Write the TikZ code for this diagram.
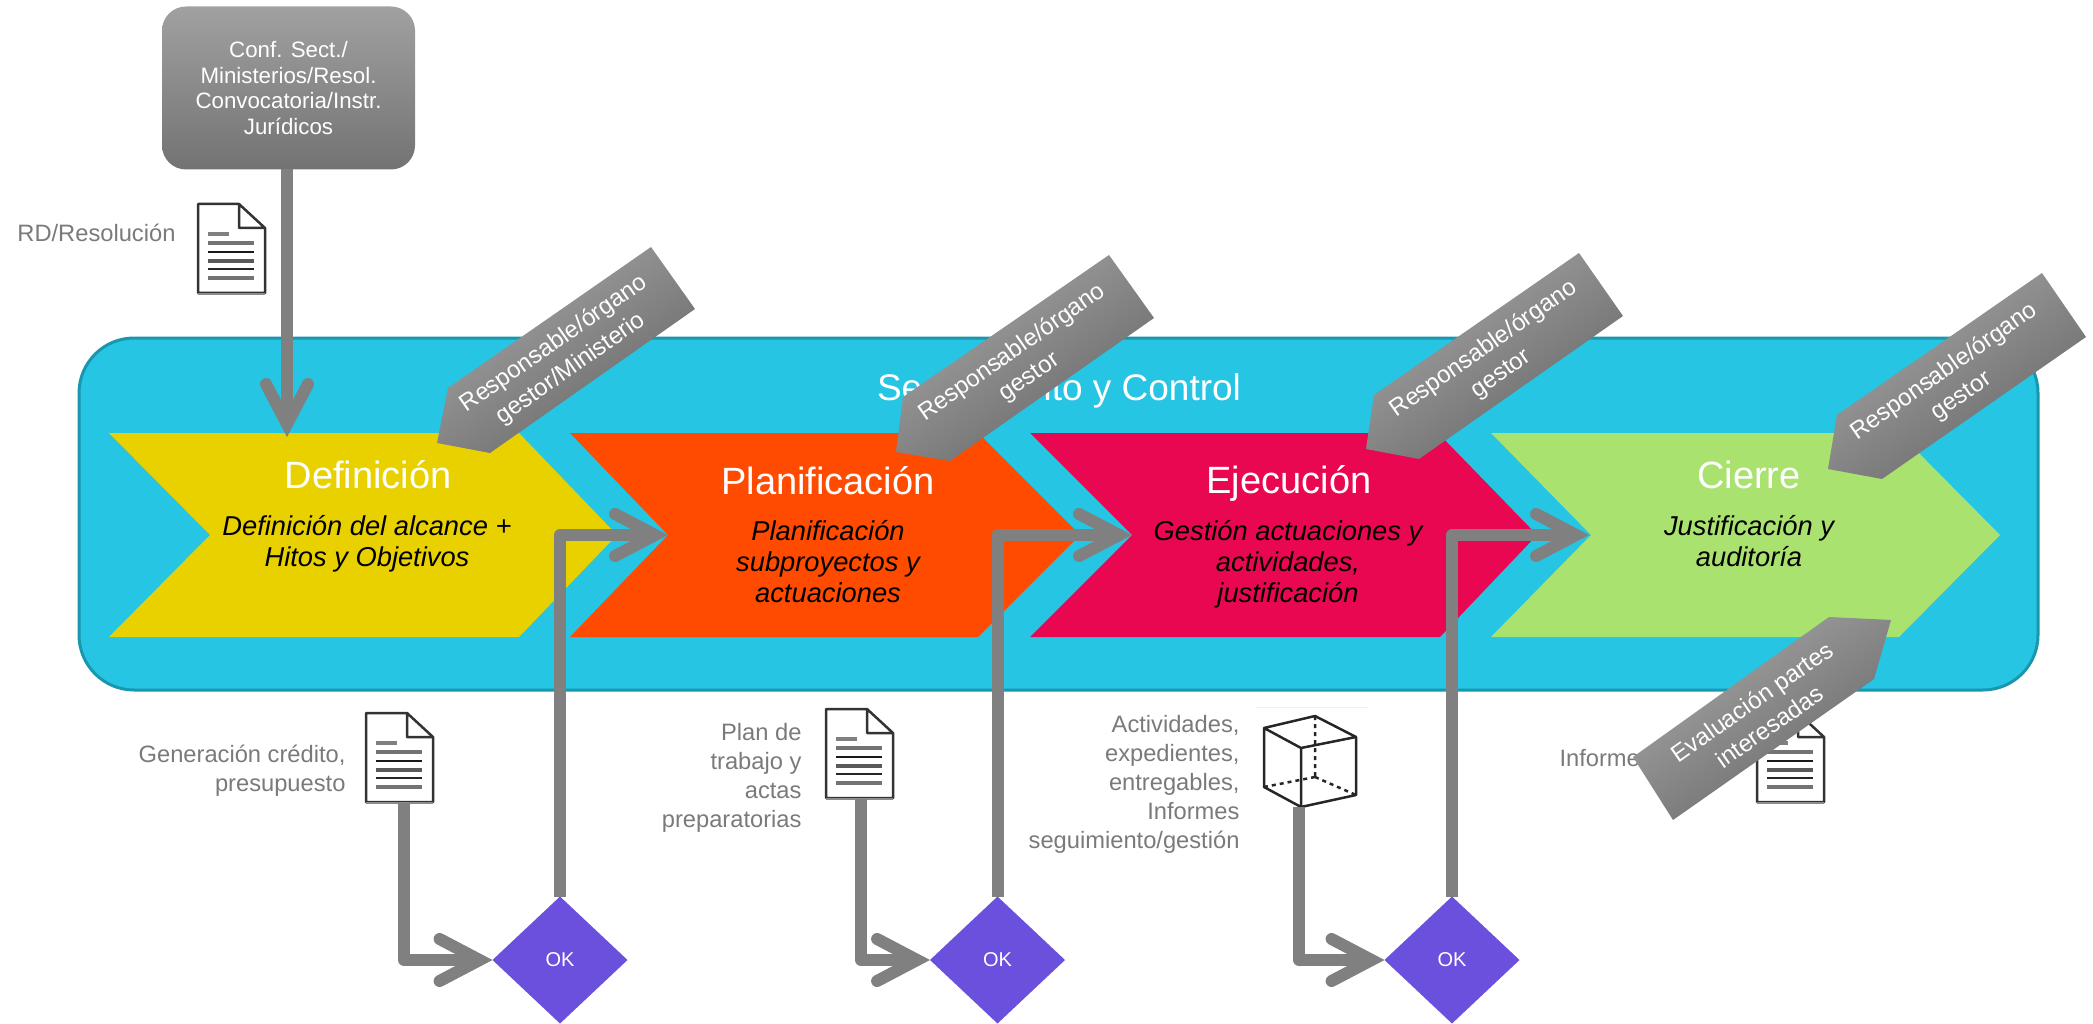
\documentclass[tikz,border=0pt]{standalone}
\usepackage{fontspec}
\setmainfont{Liberation Sans}
\usetikzlibrary{shapes.geometric,arrows.meta}
\definecolor{cpanel}{HTML}{25C5E3}
\definecolor{cpanelb}{HTML}{1A97AE}
\definecolor{cyel}{HTML}{E9D100}
\definecolor{cora}{HTML}{FF4B00}
\definecolor{cpin}{HTML}{E90752}
\definecolor{cgre}{HTML}{A9E26E}
\definecolor{cpur}{HTML}{6A50DC}
\definecolor{cgry}{HTML}{808080}
\definecolor{ctxt}{HTML}{7A7A7A}
\tikzset{
  conn/.style={draw=cgry,line width=12pt,line join=round,
    -{Straight Barb[length=40pt,width=42pt,line width=12pt,line cap=round,line join=miter]}},
  okdia/.style={diamond,fill=cpur,text=white,minimum width=135pt,minimum height=127pt,inner sep=0pt,outer sep=0pt,font=\fontsize{20}{24}\selectfont},
  srcbox/.style={rounded corners=24pt,top color=black!37,bottom color=black!55,text=white,align=center,minimum width=253pt,minimum height=163pt,inner sep=0pt,outer sep=0pt,font=\fontsize{22.3}{25.7}\selectfont},
  phase/.style={text=white,font=\fontsize{38}{42}\selectfont},
  sub/.style={text=black,align=center,font=\fontsize{27.3}{31}\selectfont\itshape},
  lab/.style={text=ctxt,align=right,font=\fontsize{23.7}{29}\selectfont},
  tag/.style={text=white,align=center,font=\fontsize{24}{30}\selectfont,rotate=35},
  callout/.style={top color=black!35,bottom color=black!60,shading angle=35},
  docicon/.pic={
    \fill[white] (0,0)--(41,0)--(67,24)--(67,90)--(0,90)--cycle;
    \draw[black!80,line width=2.5pt,line join=round] (41,0)--(0,0)--(0,89)--(67,89)--(67,24)--(41,0)--(41,24)--(67,24);
    \draw[black!45,line width=2pt] (0,90)--(67,90);
    \draw[black!50,line width=3.5pt] (10,30)--(31,30);
    \draw[black!55,line width=3.5pt] (10,39)--(56,39);
    \draw[black!90,line width=2.5pt] (10,48)--(56,48);
    \draw[black!65,line width=3.5pt] (10,57)--(56,57);
    \draw[black!85,line width=2.5pt] (10,65)--(56,65);
    \draw[black!55,line width=3.5pt] (10,74)--(56,74);
  }
}
\begin{document}
\begin{tikzpicture}[x=1pt,y=-1pt]
\useasboundingbox (0,0) rectangle (2093,1024);
% panel
\draw[fill=cpanel,draw=cpanelb,line width=3pt,rounded corners=55pt] (79,338) rectangle (2038,690);
\node[text=white,font=\fontsize{37}{40}\selectfont] (track) at (1059,391) {Seguimiento y Control};
% chevrons
\fill[cyel] (109,433)--(519,433)--(617,535)--(519,637)--(109,637)--(210,535)--cycle;
\fill[cora] (570,433)--(978,433)--(1080,535)--(978,637)--(570,637)--(668,535)--cycle;
\fill[cpin] (1030,433)--(1438,433)--(1537,535)--(1440,637)--(1030,637)--(1132,535)--cycle;
\fill[cgre] (1491,433)--(1899,433)--(2000,535)--(1899,637)--(1491,637)--(1591,535)--cycle;
\coordinate (tipdef) at (287,437);
\coordinate (tippla) at (668,535);
\coordinate (tipeje) at (1132,535);
\coordinate (tipcie) at (1589,535);
\node[phase] (pdef) at (368,475) {Definición};
\node[sub] (sdef) at (367,544) {Definición del alcance +\\Hitos y Objetivos};
\node[phase] (ppla) at (828,481) {Planificación};
\node[sub] (spla) at (828,562) {Planificación\\subproyectos y\\actuaciones};
\node[phase] (peje) at (1289,483) {Ejecución};
\node[sub] (seje) at (1288,564) {Gestión actuaciones y\\actividades,\\justificación};
\node[phase] (pcie) at (1749,475) {Cierre};
\node[sub] (scie) at (1749,541) {Justificación y\\auditoría};
% labels
\node[lab,anchor=east] (lrd) at (179,233) {RD/Resolución};
\node[lab,anchor=east] (lgen) at (349,771) {Generación crédito,\hspace{5pt}\\presupuesto};
\node[lab,anchor=east] (lpla) at (805,778) {Plan de\\trabajo y\\actas\\preparatorias};
\node[lab,anchor=east] (lact) at (1243,784) {Actividades,\hspace{11pt}\\expedientes,\hspace{11pt}\\entregables,\hspace{11pt}\\Informes\hspace{11pt}\\seguimiento/gestión};
\node[lab,anchor=west] (linf) at (1556,758) {Informe};
% doc icons
\pic at (198,204) {docicon};
\pic at (366,713) {docicon};
\pic at (826,709) {docicon};
\pic at (1757,713) {docicon};
% cube
\draw[blue!30!cyan!12,line width=1pt] (1256,707)--(1368,707);
\draw[black!85,line width=2.5pt,line join=round] (1264,728)--(1315,716)--(1356,737)--(1301,748)--cycle (1264,728)--(1264,787)--(1301,807)--(1356,795)--(1356,737) (1301,748)--(1301,807);
\draw[black!85,line width=2.5pt,dash pattern=on 4pt off 4pt] (1315,716)--(1315,777) (1315,777)--(1264,787) (1315,777)--(1356,795);
% source and decisions
\node[srcbox] (src) at (288.5,88) {Conf. Sect./\\Ministerios/Resol.\\Convocatoria/Instr.\\Jurídicos};
\node[okdia] (ok1) at (560,960) {\raisebox{-2pt}{OK}};
\node[okdia] (ok2) at (997.5,960) {\raisebox{-2pt}{OK}};
\node[okdia] (ok3) at (1452,960) {\raisebox{-2pt}{OK}};
\coordinate (d2) at (404,803);
\coordinate (d3) at (861,799);
\coordinate (d4) at (1299,807);
% connectors
\draw[conn] (src.south -| tipdef) -- (tipdef);
\draw[conn] (d2) |- (ok1.west);
\draw[conn] (d3) |- (ok2.west);
\draw[conn] (d4) |- (ok3.west);
\draw[conn] (ok1.north) |- (tippla);
\draw[conn] (ok2.north) |- (tipeje);
\draw[conn] (ok3.north) |- (tipcie);
% callouts
\shade[callout] (651,247)--(695,309)--(490,453)--(437,443)--(448,388)--cycle;
\node[tag] (c1) at (562.5,356.5) {Responsable/órgano\\gestor/Ministerio};
\shade[callout] (1109,255)--(1154,318)--(950,461)--(896,452)--(903,397)--cycle;
\node[tag] (c2) at (1021,365) {Responsable/órgano\\gestor};
\shade[callout] (1579,253)--(1623,316)--(1419,459)--(1366,449)--(1374,395)--cycle;
\node[tag] (c3) at (1492.5,361.5) {Responsable/órgano\\gestor};
\shade[callout] (2042,273)--(2086,337)--(1882,479)--(1828,469)--(1837,415)--cycle;
\node[tag] (c4) at (1953,384) {Responsable/órgano\\gestor};
\shade[callout] (1829,617)--(1891,620)--(1874,679)--(1673,820)--(1633,757)--cycle;
\node[tag] (c5) at (1760.5,714) {Evaluación partes\\interesadas};
\end{tikzpicture}
\end{document}
